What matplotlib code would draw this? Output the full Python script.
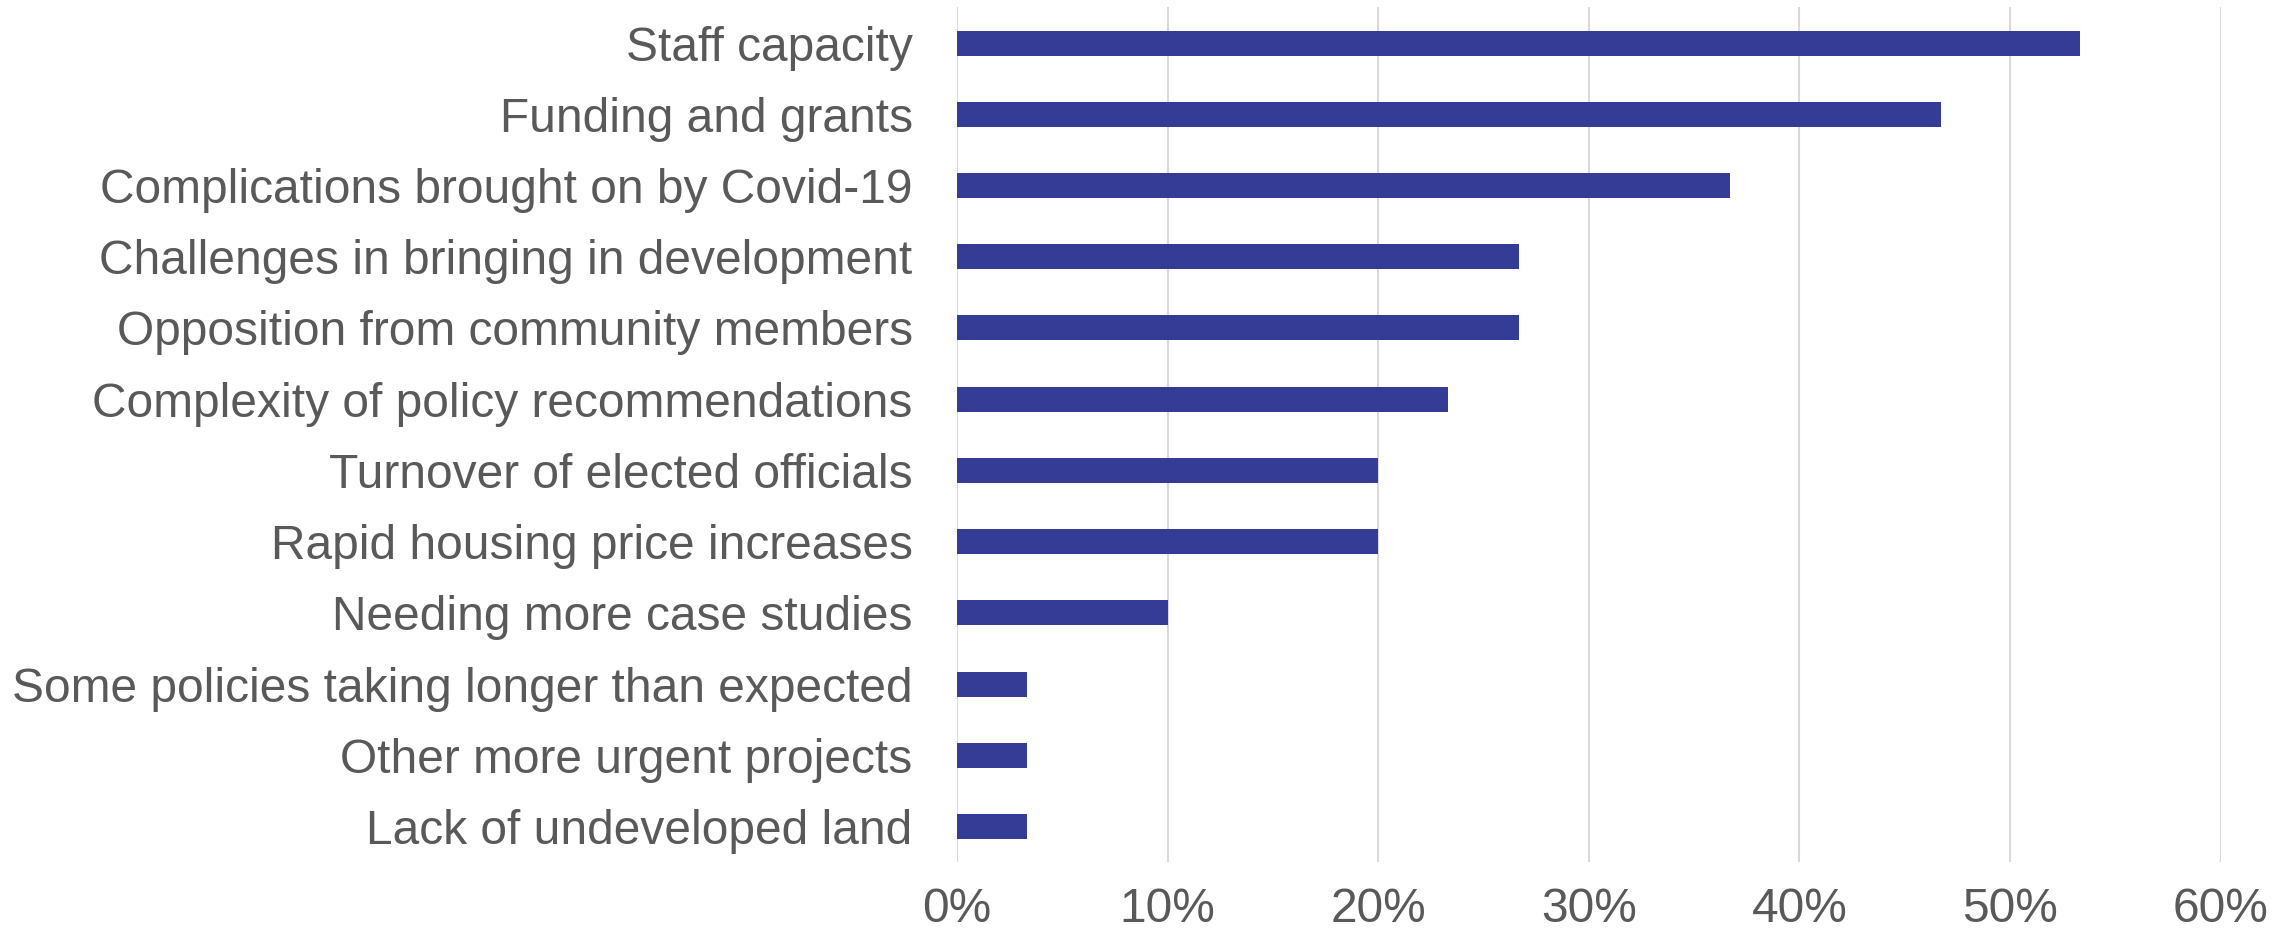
import matplotlib
matplotlib.use("Agg")
import matplotlib.pyplot as plt
from matplotlib.ticker import FuncFormatter

categories = [
    "Staff capacity",
    "Funding and grants",
    "Complications brought on by Covid-19",
    "Challenges in bringing in development",
    "Opposition from community members",
    "Complexity of policy recommendations",
    "Turnover of elected officials",
    "Rapid housing price increases",
    "Needing more case studies",
    "Some policies taking longer than expected",
    "Other more urgent projects",
    "Lack of undeveloped land",
]
values = [53.3, 46.7, 36.7, 26.7, 26.7, 23.3, 20.0, 20.0, 10.0, 3.3, 3.3, 3.3]
xticks = [0, 10, 20, 30, 40, 50, 60]

plt.rcParams['font.family'] = ['Liberation Sans', 'DejaVu Sans']
TEXT = '#595959'

fig = plt.figure(figsize=(22.87, 9.30), dpi=100)
ax = fig.add_axes([0.4185, 0.073, 0.5525, 0.919])

ypos = list(range(len(categories)))
ax.barh(ypos, values, height=0.35, color='#353C96', zorder=3)
ax.set_ylim(len(categories) - 0.5, -0.5)
ax.set_xlim(0, 60)
ax.set_xticks(xticks)
ax.xaxis.set_major_formatter(FuncFormatter(lambda v, p: f"{v:.0f}%"))
ax.set_yticks(ypos)
ax.set_yticklabels(categories)
ax.grid(axis='x', color='#D9D9D9', linewidth=1.5, zorder=0)
for s in ax.spines.values():
    s.set_visible(False)
ax.tick_params(axis='both', length=0, labelsize=34.5, colors=TEXT)
ax.tick_params(axis='y', pad=32)
ax.tick_params(axis='x', pad=18)

fig.savefig("out.png", dpi=100)
